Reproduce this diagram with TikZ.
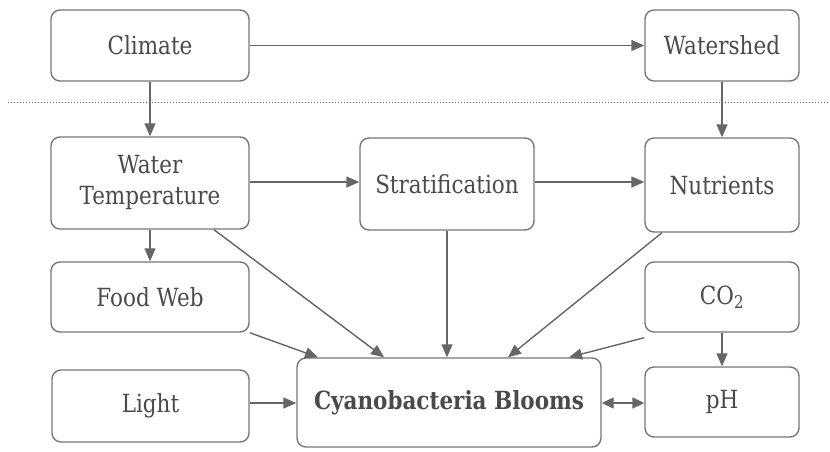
\documentclass[tikz,border=0pt]{standalone}
\usepackage{fontspec}
\setmainfont[FakeStretch=0.86]{DejaVu Serif}
\usepackage{graphicx}
\usetikzlibrary{arrows.meta,calc}
\definecolor{txt}{HTML}{4A4A4A}
\definecolor{bord}{HTML}{777777}
\definecolor{arr}{HTML}{666666}
\begin{document}
\begin{tikzpicture}[x=1pt,y=-1pt,
  box/.style={draw=bord,line width=1.4pt,rounded corners=9pt,fill=white,
    text=txt,inner sep=0pt,align=center,font=\fontsize{25}{30}\selectfont},
  conn/.style={draw=arr,line width=1.4pt,-{Triangle[length=13pt,width=11pt]}},
  dconn/.style={draw=arr,line width=1.4pt,{Triangle[length=12pt,width=11pt]}-{Triangle[length=12pt,width=11pt]}}]
\useasboundingbox (0,0) rectangle (830,451);
\fill[white] (0,0) rectangle (830,451);
\draw[arr,line width=1pt,dotted] (8,102) -- (830,102);

\node[box,minimum width=198pt,minimum height=71pt] (cl) at (150,45.5) {Climate};
\node[box,minimum width=154pt,minimum height=71pt] (ws) at (722,45.5) {Watershed};
\node[box,minimum width=198pt,minimum height=92pt] (wt) at (150,183) {\raisebox{-3pt}{\begin{tabular}{@{}c@{}}Water\\[1pt]Temperature\end{tabular}}};
\node[box,minimum width=174pt,minimum height=92pt] (st) at (447,184) {Stratification};
\node[box,minimum width=154pt,minimum height=94pt] (nu) at (722,185) {Nutrients};
\node[box,minimum width=198pt,minimum height=70pt] (fw) at (150,297) {Food Web};
\node[box,minimum width=154pt,minimum height=70pt] (co) at (722,297) {CO\textsubscript{2}};
\node[box,minimum width=197pt,minimum height=72pt] (li) at (150.5,406) {Light};
\node[box,minimum width=304pt,minimum height=89pt] (cy) at (449,402.5) {\bfseries Cyanobacteria Blooms};
\node[box,minimum width=154pt,minimum height=70pt] (ph) at (722,402) {pH};

\draw[conn] (cl.east) -- (ws.west);
\draw[conn] (cl.south) -- (wt.north);
\draw[conn] (ws.south) -- (nu.north);
\draw[conn] (wt.east |- 0,182) -- (st.west |- 0,182);
\draw[conn] (st.east |- 0,182) -- (nu.west |- 0,182);
\draw[conn] (wt.south) -- (fw.north);
\draw[conn] ([xshift=64pt]wt.south) -- ([xshift=-65pt]cy.north);
\draw[conn] (st.south) -- (st.south |- cy.north);
\draw[conn] ([xshift=-60pt]nu.south) -- ([xshift=59pt]cy.north);
\draw[conn] (fw.south east) -- ([xshift=-131pt]cy.north);
\draw[conn] ([yshift=-5pt]co.south west) -- ([xshift=120pt]cy.north);
\draw[conn] (co.south) -- (ph.north);
\draw[conn] (li.east |- 0,403) -- (cy.west |- 0,403);
\draw[dconn] (cy.east |- 0,403) -- (ph.west |- 0,403);
\end{tikzpicture}
\end{document}
